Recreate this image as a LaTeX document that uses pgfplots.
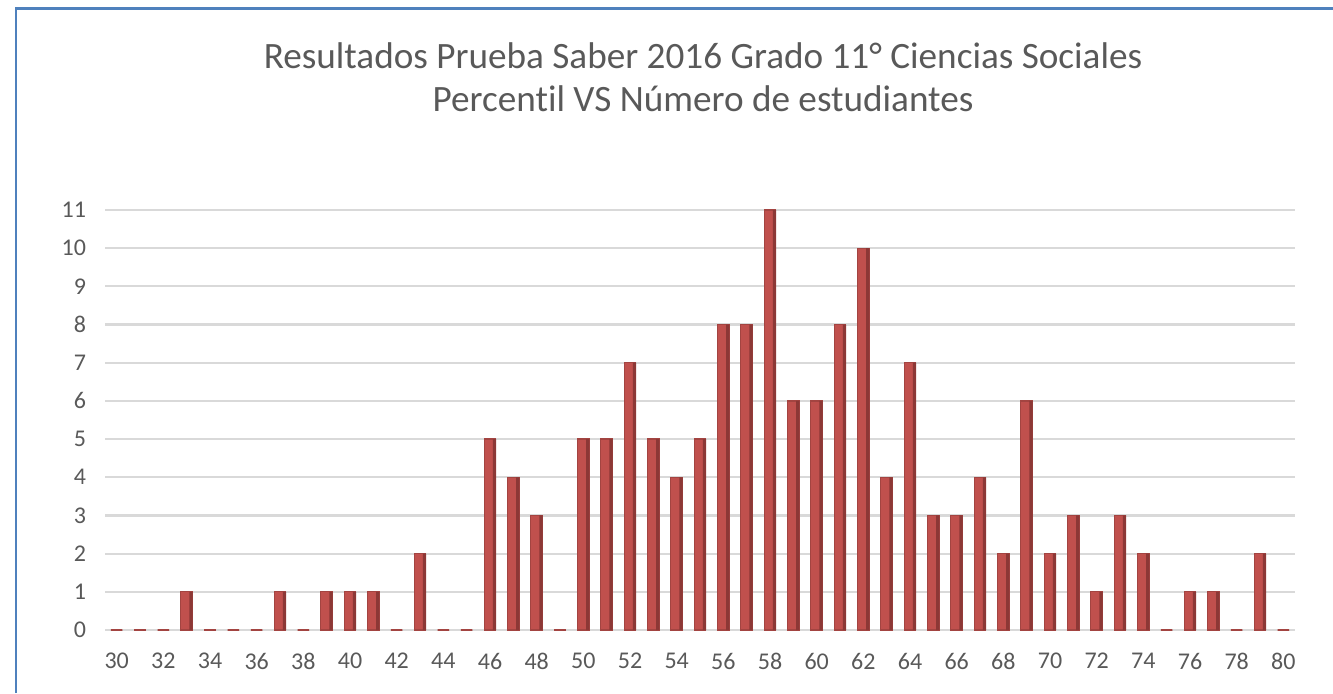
\documentclass[border=0pt]{standalone}
\usepackage{pgfplots}
\pgfplotsset{compat=1.18}
\usepackage{fontspec}
\setmainfont{Carlito}[Ligatures=NoCommon]
\definecolor{barred}{HTML}{C0504D}
\definecolor{bardark}{HTML}{8C3836}
\definecolor{frameblue}{HTML}{4F81BD}
\definecolor{gridgray}{HTML}{D9D9D9}
\definecolor{textgray}{HTML}{595959}
\begin{document}
\begin{tikzpicture}[x=0.5pt,y=0.5pt]
\path[use as bounding box] (0,0) rectangle (1333,693);
\draw[color=frameblue, line width=1.1pt] (16,0) -- (16,684.5) -- (1333,684.5);
\node[font=\fontsize{18.6}{21.5}\selectfont, text=textgray, align=center] at (703,616) {Resultados Prueba Saber 2016 Grado 11° Ciencias Sociales\\Percentil VS Número de estudiantes};
\pgfplotstableread{
x y
30 0
31 0
32 0
33 1
34 0
35 0
36 0
37 1
38 0
39 1
40 1
41 1
42 0
43 2
44 0
45 0
46 5
47 4
48 3
49 0
50 5
51 5
52 7
53 5
54 4
55 5
56 8
57 8
58 11
59 6
60 6
61 8
62 10
63 4
64 7
65 3
66 3
67 4
68 2
69 6
70 2
71 3
72 1
73 3
74 2
75 0
76 1
77 1
78 0
79 2
80 0
}\datatable
\begin{axis}[
  at={(52.5pt,31.5pt)}, anchor=south west,
  scale only axis, width=595pt, height=210pt,
  xmin=29.5, xmax=80.5, ymin=0, ymax=11,
  axis line style={draw=none},
  major tick length=0pt,
  ymajorgrids, grid style={gridgray, line width=1.1pt},
  xtick={30,32,...,80}, ytick={0,1,...,11},
  tick label style={font=\fontsize{12}{14}\selectfont, text=textgray},
  /pgf/number format/assume math mode=true,
  yticklabel style={xshift=-6pt},
  xticklabel style={yshift=-8pt},
  ybar, bar width=5.8pt,
  clip=false,
]
\addplot[fill=barred, draw=barred!85!black, line width=0.6pt, bar shift=0pt] table[x=x,y=y] {\datatable};
\addplot[fill=bardark, draw=none, bar width=1.6pt, bar shift=2.2pt] table[x=x,y=y] {\datatable};
\end{axis}
\end{tikzpicture}
\end{document}
